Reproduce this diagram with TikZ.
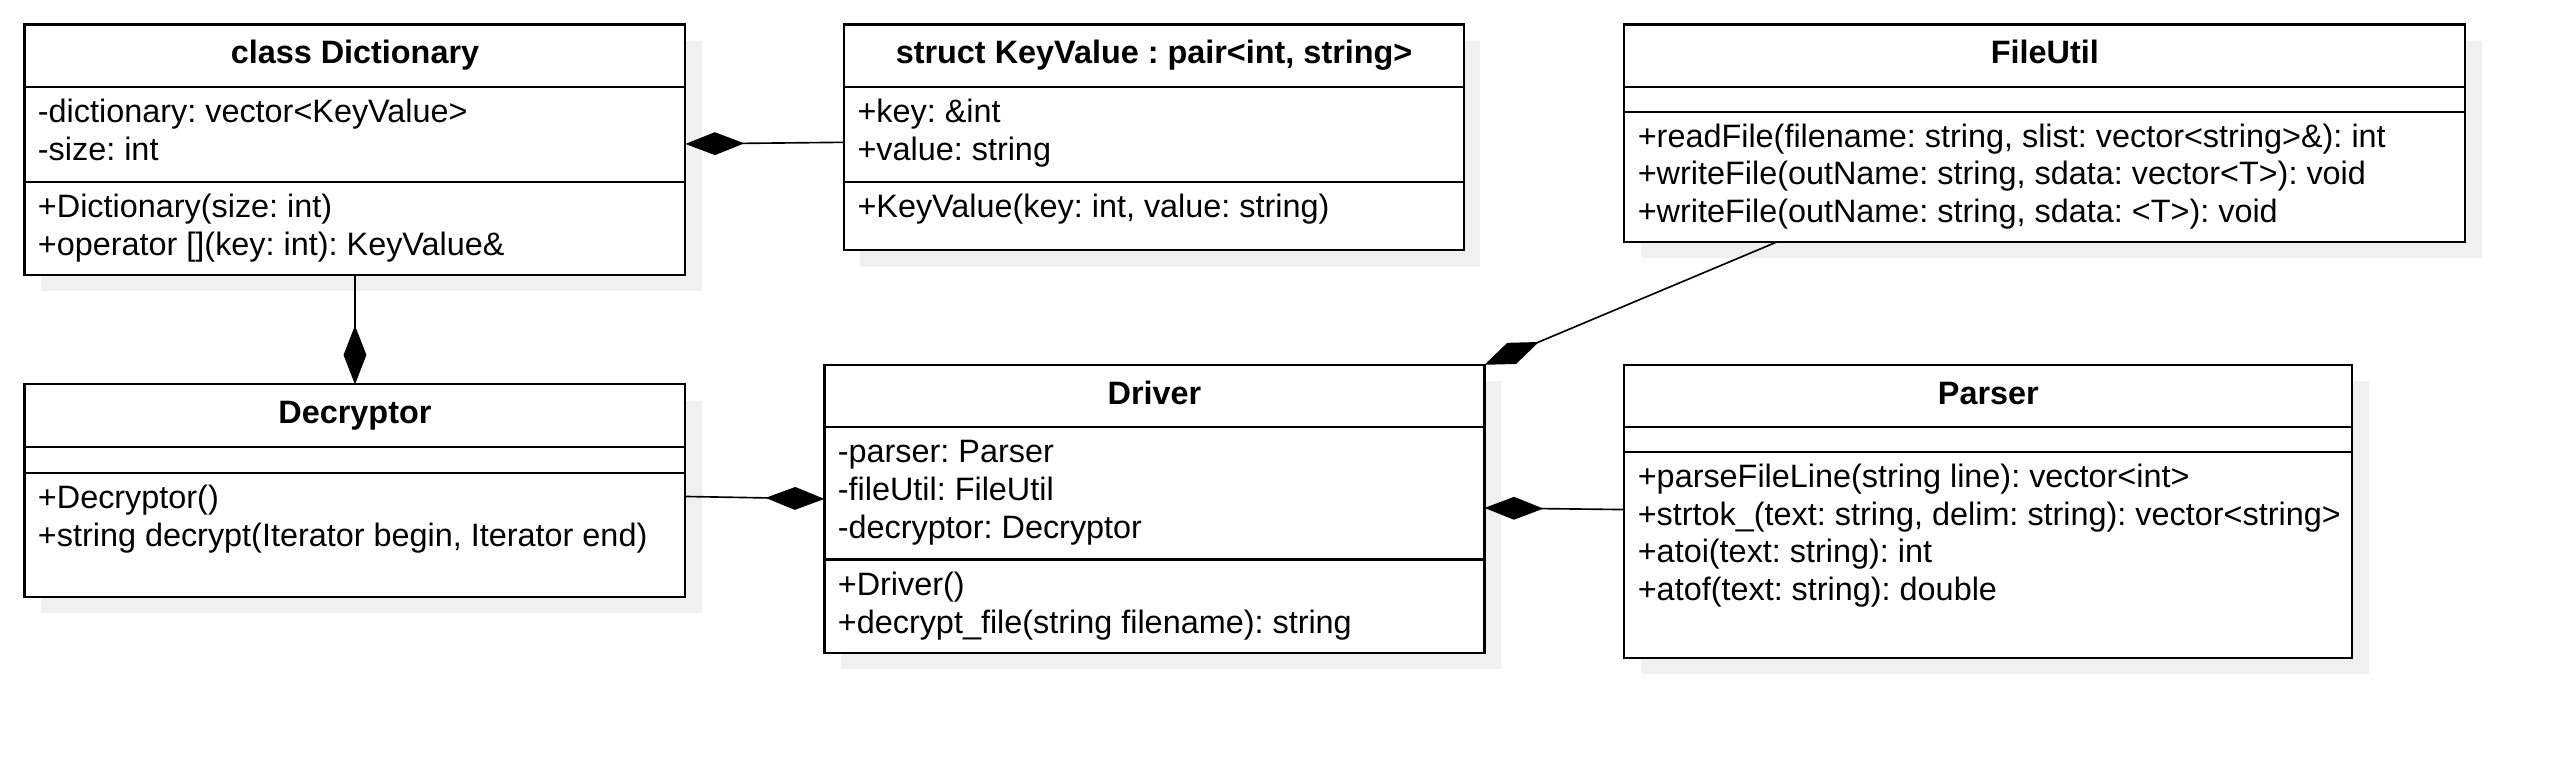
\documentclass[tikz,border=0pt]{standalone}
\usepackage{fontspec}
\setmainfont{Liberation Sans}
\usetikzlibrary{arrows.meta}
\frenchspacing
\newcommand\umlbox[5]{%
  \fill[shadowc] (#2+10,#3+10) rectangle (#4+10,#5+10);
  \node[box, anchor=north west, minimum width={#4-#2}, minimum height={#5-#3}] (#1) at (#2,#3) {};
}
\newcommand\umlsep[2]{\draw[sep] (#1.west |- 0,#2) -- (#1.east |- 0,#2);}
\begin{document}
\begin{tikzpicture}[x=1pt,y=-1pt,
  shadowc/.style={fill=black!6},
  box/.style={draw, line width=1.3pt, fill=white, outer sep=0pt, inner sep=0pt},
  sep/.style={line width=1.3pt},
  title/.style={font=\bfseries\fontsize{19.8}{23}\selectfont, anchor=base, inner sep=0pt},
  member/.style={font=\fontsize{19.8}{23}\selectfont, anchor=base west, inner sep=0pt},
  comp/.style={line width=1pt, -{Diamond[length=36pt,width=14pt]}}]
\fill[white] (0,0) rectangle (1568,463);
\useasboundingbox (0,0) rectangle (1568,463);

% class Dictionary
\umlbox{dict}{15}{15}{419}{168}
\umlsep{dict}{53}\umlsep{dict}{111}
\node[title] (dictT) at (217,39) {class Dictionary};
\node[member] (dictA1) at (23,75) {-dictionary: vector<KeyValue>};
\node[member] (dictA2) at (23,98) {-size: int};
\node[member] (dictM1) at (23,133) {+Dictionary(size: int)};
\node[member] (dictM2) at (23,156) {+operator [](key: int): KeyValue\&};

% struct KeyValue
\umlbox{kv}{516}{15}{895}{153}
\umlsep{kv}{53}\umlsep{kv}{111}
\node[title] (kvT) at (705.5,39) {struct KeyValue : pair<int, string>};
\node[member] (kvA1) at (524,75) {+key: \&int};
\node[member] (kvA2) at (524,98) {+value: string};
\node[member] (kvM1) at (524,133) {+KeyValue(key: int, value: string)};

% FileUtil
\umlbox{fu}{993}{15}{1507}{148}
\umlsep{fu}{53}\umlsep{fu}{68.5}
\node[title] (fuT) at (1250,39) {FileUtil};
\node[member] (fuM1) at (1001,90) {+readFile(filename: string, slist: vector<string>\&): int};
\node[member] (fuM2) at (1001,113) {+writeFile(outName: string, sdata: vector<T>): void};
\node[member] (fuM3) at (1001,136) {+writeFile(outName: string, sdata: <T>): void};

% Decryptor
\umlbox{dec}{15}{235}{419}{365}
\umlsep{dec}{273}\umlsep{dec}{289}
\node[title] (decT) at (217,259) {Decryptor};
\node[member] (decM1) at (23,311) {+Decryptor()};
\node[member] (decM2) at (23,334) {+string decrypt(Iterator begin, Iterator end)};

% Driver
\umlbox{drv}{504}{223}{907.5}{399}
\umlsep{drv}{261}\umlsep{drv}{342}
\node[title] (drvT) at (705.75,247) {Driver};
\node[member] (drvA1) at (512,283) {-parser: Parser};
\node[member] (drvA2) at (512,306) {-fileUtil: FileUtil};
\node[member] (drvA3) at (512,329) {-decryptor: Decryptor};
\node[member] (drvM1) at (512,364) {+Driver()};
\node[member] (drvM2) at (512,387) {+decrypt\_file(string filename): string};

% Parser
\umlbox{par}{993}{223}{1438}{402}
\umlsep{par}{261}\umlsep{par}{276.5}
\node[title] (parT) at (1215.5,247) {Parser};
\node[member] (parM1) at (1001,298) {+parseFileLine(string line): vector<int>};
\node[member] (parM2) at (1001,321) {+strtok\_(text: string, delim: string): vector<string>};
\node[member] (parM3) at (1001,344) {+atoi(text: string): int};
\node[member] (parM4) at (1001,367) {+atof(text: string): double};

% connectors (composition)
\draw[comp] (kv.west |- 0,87) -- (dict.east |- 0,88);
\draw[comp] (dict.south) -- (dec.north);
\draw[comp] (dec.east |- 0,303.5) -- (drv.west |- 0,305);
\draw[comp] (fu.south -| 1086,0) -- (drv.north east);
\draw[comp] (par.west |- 0,311.5) -- (drv.east |- 0,310.5);
\end{tikzpicture}
\end{document}
